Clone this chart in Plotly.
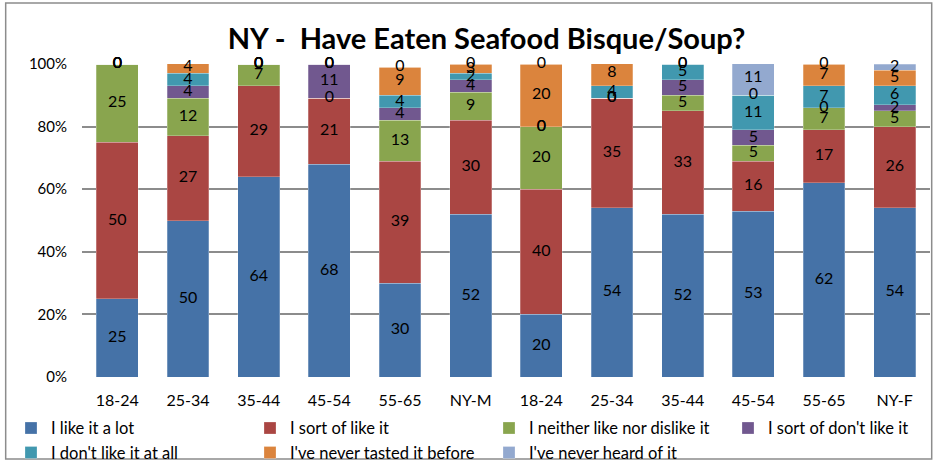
import plotly.graph_objects as go

# 類別 (男 / 女)
categories = ['18-24', '25-34', '35-44', '45-54', '55-65', 'NY-M',
              '18-24', '25-34', '35-44', '45-54', '55-65', 'NY-F']

# 各選項百分比
like_a_lot      = [25, 50, 64, 68, 30, 52, 20, 54, 52, 53, 62, 54]
sort_of_like    = [50, 27, 29, 21, 39, 30, 40, 35, 33, 16, 17, 26]
neither         = [25, 12, 7, 0, 13, 9, 20, 0, 5, 5, 7, 5]
sort_of_dislike = [0, 4, 0, 11, 4, 4, 0, 0, 5, 5, 0, 2]
dont_like       = [0, 4, 0, 0, 4, 2, 0, 4, 5, 11, 7, 6]
never_tasted    = [0, 4, 0, 0, 9, 3, 20, 8, 0, 0, 7, 5]
never_heard     = [0, 0, 0, 0, 0, 0, 0, 0, 0, 11, 0, 2]

yticks = [0, 20, 40, 60, 80, 100]
ytick_labels = ['0%', '20%', '40%', '60%', '80%', '100%']

# (名稱, 數值, 顏色, 圖例欄)
series = [
    ("I like it a lot", like_a_lot, '#4572A7', 'legend'),
    ("I sort of like it", sort_of_like, '#AA4643', 'legend2'),
    ("I neither like nor dislike it", neither, '#89A54E', 'legend3'),
    ("I sort of don't like it", sort_of_dislike, '#71588F', 'legend4'),
    ("I don't like it at all", dont_like, '#4198AF', 'legend'),
    ("I've never tasted it before", never_tasted, '#DB843D', 'legend2'),
    ("I've never heard of it", never_heard, '#93A9CF', 'legend3'),
]

FONT = "Lato, Open Sans, sans-serif"
x = list(range(len(categories)))

fig = go.Figure()

# 堆疊柱狀
for name, vals, color, lg in series:
    fig.add_trace(go.Bar(
        x=x, y=vals, name=name, legend=lg,
        marker=dict(color=color, line=dict(color='rgba(255,255,255,0.5)', width=0.5)),
        hoverinfo='y+name',
    ))

# 數值標籤 (包含 0)
base = [0] * len(x)
lx, ly, lt = [], [], []
for name, vals, color, lg in series:
    for i, v in enumerate(vals):
        lx.append(i)
        ly.append(base[i] + v / 2)
        lt.append(str(v))
        base[i] += v
fig.add_trace(go.Scatter(
    x=lx, y=ly, text=lt, mode='text',
    textfont=dict(family=FONT, size=16, color='black'),
    showlegend=False, hoverinfo='skip', cliponaxis=False,
))

# 圖例: 四欄
def col_legend(px):
    return dict(orientation='v', x=(px - 82) / 848, xanchor='left',
                y=-0.108, yanchor='top', traceorder='normal',
                font=dict(family=FONT, size=16.5), itemwidth=30,
                bgcolor='rgba(0,0,0,0)')

fig.update_layout(
    barmode='stack',
    bargap=0.41,
    width=934, height=462,
    paper_bgcolor='white', plot_bgcolor='white',
    margin=dict(l=82, r=4, t=64, b=85, autoexpand=False),
    font=dict(family=FONT, size=15, color='black'),
    title=dict(text="<b>NY -  Have Eaten Seafood Bisque/Soup?</b>",
               xref='paper', x=0.477, xanchor='center',
               yref='container', y=0.915, yanchor='middle',
               font=dict(family=FONT, size=29, color='black')),
    xaxis=dict(tickmode='array', tickvals=x, ticktext=categories,
               range=[-0.5, len(x) - 0.5], showgrid=False, ticks='',
               showline=False, zeroline=False, ticklabelstandoff=12,
               tickfont=dict(size=16)),
    yaxis=dict(range=[0, 100], tickmode='array', tickvals=yticks, ticktext=ytick_labels,
               showgrid=True, gridcolor='#8c8c8c', gridwidth=1.5,
               zeroline=False, ticklabelstandoff=14),
    legend=col_legend(11),
    legend2=col_legend(250),
    legend3=col_legend(489),
    legend4=col_legend(728),
    shapes=[dict(type='rect', xref='paper', yref='paper',
                 x0=-0.09, x1=1.002, y0=-0.262, y1=1.195,
                 line=dict(color='#8c8c8c', width=1.5))],
)

fig.write_html("out.html", config={'displayModeBar': False},
               post_script="document.body.style.margin='0';")
